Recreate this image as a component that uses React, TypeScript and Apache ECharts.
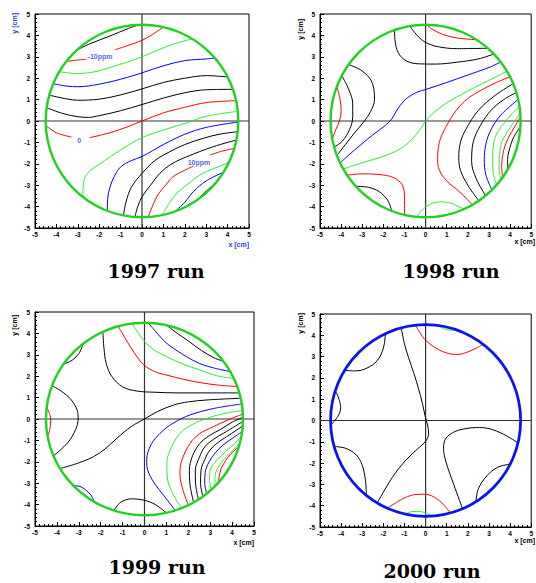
import React, { useEffect, useRef } from "react";
import * as echarts from "echarts";

type Pt = [number, number] | null;

const AXIS_MIN = -5;
const AXIS_MAX = 5;
const AXIS_STEP = 1;
const FIDUCIAL_R = 4.5;

// ---------- 1997 run ----------
const r97Black: Pt[][] = [
  [[-3.1, 3.28], [-2.5, 3.58], [-1.5, 3.97], [-0.7, 4.3], [-0.15, 4.5]],
  [[-4.3, 1.2], [-3.5, 1.03], [-3, 0.97], [-2, 1.02], [-1, 1.22], [0, 1.5], [1, 1.8], [2, 2.0], [3, 2.12], [4.0, 2.06]],
  [[-4.45, 0.62], [-3.7, 0.35], [-3, 0.2], [-2.5, 0.17], [-2, 0.25], [-1, 0.48], [0, 0.77], [1, 1.07], [2, 1.32], [3, 1.46], [4.25, 1.48]],
  [[-0.87, -4.42], [-0.75, -3.8], [-0.5, -3.1], [0, -2.45], [0.6, -1.85], [1.31, -1.43], [2, -1.1], [2.86, -0.81], [3.6, -0.62], [4.47, -0.5]],
  [[-0.33, -4.49], [-0.2, -4.0], [0, -3.54], [0.4, -3.0], [0.84, -2.44], [1.4, -2.0], [2.09, -1.67], [3.33, -1.2], [4.41, -0.89]],
  [[2.75, -3.5], [3.0, -3.28], [3.25, -3.05]],
];
const r97Red: Pt[][] = [
  [[-3.55, 2.78], [-3.0, 2.85], [-2.6, 2.88], null, [-1.25, 3.33], [-0.6, 3.55], [0, 3.77], [0.5, 4.05], [1.0, 4.39]],
  [[-4.48, -0.22], [-4.0, -0.55], [-3.3, -0.75], null, [-2.45, -0.78], [-1.5, -0.55], [-0.7, -0.28], [0, 0], [1, 0.38], [2, 0.64], [3, 0.86], [4.4, 0.95]],
  [[0.29, -4.49], [0.69, -3.54], [1.1, -3.0], [1.46, -2.6], [2.0, -2.3], [2.4, -2.1], null, [3.18, -1.59], [3.7, -1.42], [4.31, -1.28]],
];
const r97Green: Pt[][] = [
  [[-3.85, 2.3], [-3.0, 2.22], [-2.2, 2.3], [-1.5, 2.5], [-0.7, 2.75], [0, 3.0], [0.7, 3.3], [1.5, 3.6], [2.35, 3.84]],
  [[-2.77, -3.55], [-2.75, -3.1], [-2.66, -2.63], [-2.4, -2.3], [-1.96, -2.0], [-1, -1.35], [0, -0.78], [1, -0.42], [2, -0.12], [3, 0.22], [4.47, 0.45]],
  [[0.92, -4.41], [1.3, -3.8], [1.62, -3.38], [2.2, -2.9], [2.71, -2.52], [3.4, -2.2], [3.96, -1.98], [4.08, -1.88]],
];
const r97Blue: Pt[][] = [
  [[-4.15, 1.74], [-3.5, 1.63], [-3, 1.6], [-2, 1.72], [-1, 1.95], [0, 2.25], [1, 2.58], [2, 2.82], [3, 2.9], [3.4, 2.94]],
  [[-1.62, -4.2], [-1.6, -3.6], [-1.5, -3.1], [-1.3, -2.6], [-1.0, -2.15], [-0.5, -1.85], [0, -1.66], [1, -1.1], [2, -0.62], [3, -0.3], [4.49, -0.05]],
  [[1.54, -4.23], [2.0, -3.8], [2.4, -3.3], [3.0, -2.8], [3.8, -2.4]],
];
const r97LabelText = ["-10ppm", "0", "10ppm"];
const r97LabelPos: [number, number][] = [[-1.96, 3.0], [-2.94, -0.89], [2.66, -1.92]];

// ---------- 1998 run ----------
const r98Black: Pt[][] = [
  [[-0.75, 4.44], [-0.4, 4.0], [0, 3.67], [0.6, 3.47], [1.5, 3.38], [2.9, 3.4]],
  [[-1.47, 4.27], [-1.45, 3.8], [-1.3, 3.2], [-0.9, 2.8], [-0.3, 2.67], [0.5, 2.66], [1.5, 2.75], [2.5, 2.9], [3.2, 3.12]],
  [[-3.96, 2.1], [-3.65, 1.5], [-3.45, 0.8], [-3.45, 0.2], [-3.6, -0.4], [-3.95, -0.95], [-4.33, -1.22]],
  [[-3.65, 2.64], [-3.1, 2.4], [-2.65, 2.0], [-2.45, 1.5], [-2.42, 1.0], [-2.6, 0.45], [-2.9, 0], [-3.4, -0.6], [-3.8, -1.1], [-4.15, -1.55]],
  [[-3.3, -3.05], [-2.7, -3.1], [-2.2, -3.3], [-1.8, -3.7], [-1.6, -4.2]],
  [[2.5, -3.7], [2.0, -3.0], [1.65, -2.3], [1.57, -1.7], [1.65, -1.0], [1.9, -0.4], [2.5, 0.5], [3.3, 1.2], [4.15, 1.75]],
  [[2.84, -3.48], [2.4, -2.7], [2.18, -1.9], [2.25, -1.0], [2.6, -0.2], [3.1, 0.5], [3.7, 1.0], [4.3, 1.33]],
  [[3.9, -2.25], [3.88, -1.8], [3.95, -1.4], [4.15, -0.8], [4.49, -0.27]],
];
const r98Red: Pt[][] = [
  [[0.05, 4.5], [0.3, 4.3], [0.8, 4.05], [1.5, 3.88], [2.4, 3.8]],
  [[-4.2, 1.62], [-4.05, 1.0], [-4.0, 0.5], [-4.08, 0], [-4.25, -0.4], [-4.42, -0.84]],
  [[-3.72, -2.53], [-3.0, -2.47], [-2.2, -2.5], [-1.5, -2.65], [-1.1, -3.0], [-1.0, -3.6], [-1.0, -4.38]],
  [[2.2, -3.9], [1.6, -3.3], [1.0, -2.8], [0.65, -2.3], [0.57, -1.8], [0.65, -1.0], [0.95, -0.3], [1.45, 0.5], [2.0, 1.05], [2.65, 1.45], [3.35, 1.8], [4.0, 2.06]],
  [[3.65, -2.62], [3.6, -2.1], [3.65, -1.6], [3.8, -1.04], [4.05, -0.55], [4.26, -0.2], [4.49, 0.2]],
];
const r98Green: Pt[][] = [
  [[-3.9, -2.24], [-3, -1.95], [-2, -1.65], [-1.2, -1.3], [-0.6, -0.8], [-0.2, -0.3], [0, 0], [0.4, 0.4], [1, 0.85], [2, 1.4], [3, 1.9], [3.85, 2.33]],
  [[3.35, -3.0], [3.2, -2.4], [3.17, -1.8], [3.25, -0.9], [3.45, -0.45], [3.72, -0.1], [4.1, 0.35], [4.45, 0.67]],
  [[3.57, -2.74], [3.48, -2.2], [3.49, -1.8], [3.57, -1.1], [3.75, -0.7], [4.03, -0.27], [4.48, 0.36]],
  [[-0.43, -4.48], [-0.1, -4.1], [0.3, -3.85], [0.8, -3.78], [1.3, -3.88], [1.8, -4.12]],
];
const r98Blue: Pt[][] = [
  [[-4.05, -1.96], [-3.3, -1.3], [-2.5, -0.65], [-1.9, -0.2], [-1.6, 0.1], [-1.3, 0.6], [-0.9, 1.05], [-0.4, 1.35], [0, 1.47], [1, 1.8], [2, 2.15], [3, 2.5], [3.55, 2.75]],
  [[3.14, -3.22], [2.85, -2.5], [2.78, -1.8], [2.85, -1.1], [3.05, -0.5], [3.45, 0.15], [3.9, 0.6], [4.38, 1.0]],
  [[0.5, -4.47], [0.8, -4.42], [1.1, -4.36]],
];

// ---------- 1999 run ----------
const r99Black: Pt[][] = [
  [[-3.7, 2.56], [-3.3, 2.75], [-3.0, 3.05], [-2.8, 3.5]],
  [[-1.9, 4.08], [-1.85, 3.3], [-1.75, 2.6], [-1.5, 2.0], [-1.0, 1.5], [-0.3, 1.3], [0.5, 1.25], [1.5, 1.22], [3, 1.22], [4.33, 1.22]],
  [[1.0, 4.39], [1.5, 4.0], [2, 3.65], [2.6, 3.2], [3.2, 2.85], [3.6, 2.7]],
  [[-4.22, 1.55], [-3.8, 1.3], [-3.35, 0.9], [-3.07, 0.4], [-3.03, 0], [-3.15, -0.5], [-3.5, -1.1], [-4.15, -1.72]],
  [[-3.8, -2.3], [-3.0, -2.05], [-2.33, -1.76], [-1.8, -1.4], [-1.26, -0.9], [-0.6, -0.35], [0, 0], [0.6, 0.35], [1.32, 0.65], [2.0, 0.8], [2.85, 0.89], [4.39, 0.97]],
  [[-1.4, -4.28], [-1.1, -3.9], [-0.6, -3.73], [0, -3.8], [0.5, -4.0], [1.0, -4.39]],
  [[2.23, -3.85], [2.07, -3.0], [2.05, -2.4], [2.2, -1.7], [2.53, -1.14], [2.95, -0.78], [3.45, -0.5], [4.0, -0.15], [4.5, 0.08]],
  [[2.46, -3.75], [2.33, -3.0], [2.32, -2.4], [2.5, -1.8], [2.76, -1.29], [3.15, -0.95], [3.6, -0.67], [4.49, -0.12]],
  [[2.66, -3.6], [2.56, -3.0], [2.58, -2.4], [2.75, -1.9], [2.99, -1.45], [3.35, -1.1], [3.75, -0.83], [4.48, -0.33]],
  [[3.6, -2.72], [3.75, -2.45], [3.9, -2.2], [4.1, -1.9], [4.2, -1.65]],
];
const r99Red: Pt[][] = [
  [[-1.2, 4.34], [-0.9, 3.8], [-0.65, 3.38], [-0.3, 2.85], [0, 2.5], [0.5, 2.2], [1.02, 2.05], [1.8, 1.85], [2.54, 1.7], [3.4, 1.58], [4.22, 1.52]],
  [[-4.47, 0.55], [-4.32, 0.2], [-4.28, -0.1], [-4.33, -0.5], [-4.42, -0.85]],
  [[2.0, -4.02], [1.75, -3.3], [1.62, -2.6], [1.68, -2.0], [2.08, -1.14], [2.5, -0.7], [3.14, -0.36], [3.8, -0.05], [4.49, 0.23]],
  [[3.37, -2.98], [3.45, -2.5], [3.55, -2.2], [3.9, -1.68], [4.3, -1.3]],
];
const r99Green: Pt[][] = [
  [[-0.55, 4.43], [-0.3, 4.05], [-0.05, 3.69], [0.4, 3.25], [1.02, 2.91], [1.8, 2.55], [2.54, 2.29], [3.3, 2.02], [4.08, 1.9]],
  [[1.7, -4.17], [1.3, -3.5], [1.05, -2.8], [1.02, -2.1], [1.15, -1.5], [1.62, -0.67], [2.2, -0.25], [2.84, 0.03], [3.6, 0.25], [4.49, 0.4]],
  [[3.04, -3.3], [2.97, -2.8], [3.0, -2.4], [3.2, -2.05], [3.45, -1.76], [4.05, -1.2], [4.42, -0.83]],
  [[3.22, -3.13], [3.22, -2.7], [3.3, -2.38], [3.5, -2.05], [3.75, -1.76], [4.35, -1.14]],
];
const r99Blue: Pt[][] = [
  [[0.18, 4.48], [0.5, 4.1], [1, 3.55], [1.7, 3.05], [2.5, 2.6], [3.3, 2.35], [3.9, 2.22]],
  [[1.4, -4.27], [0.9, -3.6], [0.45, -3.0], [0.15, -2.4], [0.1, -1.9], [0.3, -1.2], [0.71, -0.67], [1.3, -0.2], [2.08, 0.19], [3.2, 0.5], [4.43, 0.7]],
  [[2.84, -3.48], [2.75, -3.0], [2.77, -2.5], [2.95, -2.0], [3.22, -1.6], [3.55, -1.25], [3.9, -0.98], [4.46, -0.59]],
  [[-3.24, -3.12], [-2.95, -3.15], [-2.7, -3.3], [-2.45, -3.55], [-2.3, -3.85]],
];

// ---------- 2000 run ----------
const r00Black: Pt[][] = [
  [[-3.85, 2.35], [-3.3, 2.33], [-2.8, 2.45], [-2.3, 2.8], [-2.0, 3.4], [-1.9, 4.1]],
  [[-1.15, 4.33], [-1.0, 3.6], [-0.81, 2.96], [-0.55, 2.2], [-0.35, 1.55], [-0.15, 0.8], [-0.02, 0.2], [0.1, -0.25], [0.14, -0.6], [0.02, -0.95], [-0.4, -1.35], [-0.97, -1.9], [-1.58, -2.68], [-2.27, -3.83]],
  [[-4.27, 1.4], [-4.1, 1.0], [-4.02, 0.6], [-4.15, 0.2], [-4.48, -0.2]],
  [[-4.34, -1.22], [-3.8, -1.3], [-3.3, -1.6], [-3.0, -2.1], [-2.85, -2.8], [-2.8, -3.5]],
  [[1.76, -4.17], [1.35, -3.05], [0.95, -1.9], [0.85, -1.3], [0.95, -0.85], [1.33, -0.55], [1.8, -0.4], [2.41, -0.33], [3.0, -0.38], [3.7, -0.65], [4.37, -1.05]],
  [[2.38, -3.82], [2.5, -3.2], [2.9, -2.6], [3.4, -2.2], [4.0, -2.05]],
];
const r00Red: Pt[][] = [
  [[-0.48, 4.47], [-0.25, 4.1], [-0.05, 3.82], [0.4, 3.45], [1.0, 3.17], [1.5, 3.1], [2.0, 3.22], [2.4, 3.4], [2.72, 3.58]],
  [[-1.82, -4.12], [-1.3, -3.8], [-0.97, -3.62], [-0.5, -3.48], [-0.05, -3.46], [0.57, -3.7], [1.18, -4.34]],
];
const r00Green: Pt[][] = [
  [[0.57, 4.47], [0.9, 4.3], [1.2, 4.24], [1.5, 4.24]],
  [[-0.97, -4.39], [-0.6, -4.27], [-0.3, -4.27], [0.0, -4.35], [0.35, -4.49]],
];
const r00Blue: Pt[][] = [];

const runTitles = ["1997 run", "1998 run", "1999 run", "2000 run"];

// ---------- layout & style ----------
const COLORS = { black: "#000000", red: "#ff0000", green: "#2fee2f", blue: "#0000ff" };
const LABEL_BLUE = "#2a3ee0";
const panels = [
  { lines: [r97Black, r97Red, r97Green, r97Blue], grid: { left: 35, top: 14, width: 214, height: 214 }, ring: "#1fd21f", ringW: 2.4, titleXY: [156, 271], axTitleColor: LABEL_BLUE, yTitle: [14.5, 13], xTitle: [249, 244] },
  { lines: [r98Black, r98Red, r98Green, r98Blue], grid: { left: 320, top: 14, width: 218, height: 214 }, ring: "#1fd21f", ringW: 2.4, titleXY: [451, 271], axTitleColor: "#000", yTitle: [300, 19], xTitle: [535, 241] },
  { lines: [r99Black, r99Red, r99Green, r99Blue], grid: { left: 35, top: 312, width: 219, height: 214 }, ring: "#1fd21f", ringW: 2.4, titleXY: [157, 567], axTitleColor: "#000", yTitle: [14.5, 315], xTitle: [254, 542] },
  { lines: [r00Black, r00Red, r00Green, r00Blue], grid: { left: 320, top: 314, width: 218, height: 213 }, ring: "#0a14f0", ringW: 2.8, titleXY: [432, 571], axTitleColor: "#000", yTitle: [300, 313], xTitle: [535, 540] },
];
const colorOrder = [COLORS.black, COLORS.red, COLORS.green, COLORS.blue];

function splitSegments(line: Pt[]): [number, number][][] {
  const out: [number, number][][] = [];
  let cur: [number, number][] = [];
  for (const p of line) {
    if (p === null) {
      if (cur.length) out.push(cur);
      cur = [];
    } else cur.push(p);
  }
  if (cur.length) out.push(cur);
  return out;
}

export default function App() {
  const ref = useRef<HTMLDivElement>(null);
  useEffect(() => {
    if (!ref.current) return;
    const chart = echarts.init(ref.current, null, { renderer: "svg" });
    const tickFont = { fontSize: 6.5, fontWeight: "bold" as const, color: "#000", fontFamily: "Liberation Sans, Arial, sans-serif" };
    const grids: any[] = [];
    const xAxes: any[] = [];
    const yAxes: any[] = [];
    const series: any[] = [];
    const graphics: any[] = [];

    panels.forEach((pn, i) => {
      grids.push({ ...pn.grid, show: true, borderColor: "#000", borderWidth: 1, backgroundColor: "transparent", containLabel: false });
      const axisCommon = {
        gridIndex: i,
        type: "value",
        min: AXIS_MIN,
        max: AXIS_MAX,
        interval: AXIS_STEP,
        axisLine: { show: true, onZero: false, lineStyle: { color: "#000", width: 1 } },
        axisTick: { show: true, inside: true, length: 4, lineStyle: { color: "#000", width: 1 } },
        minorTick: { show: true, splitNumber: 5, length: 2, lineStyle: { color: "#000", width: 1 } },
        splitLine: { show: false },
        minorSplitLine: { show: false },
      };
      xAxes.push({ ...axisCommon, position: "bottom", axisLabel: { ...tickFont, margin: 3 } });
      yAxes.push({ ...axisCommon, position: "left", axisLabel: { ...tickFont, margin: 5 } });

      series.push({
        type: "line", xAxisIndex: i, yAxisIndex: i, data: [[AXIS_MIN, 0], [AXIS_MAX, 0]],
        symbol: "none", silent: true, lineStyle: { color: "#333", width: 1.2 }, z: 1,
      });
      series.push({
        type: "line", xAxisIndex: i, yAxisIndex: i, data: [[0, AXIS_MIN], [0, AXIS_MAX]],
        symbol: "none", silent: true, lineStyle: { color: "#333", width: 1.2 }, z: 1,
      });

      pn.lines.forEach((group, ci) => {
        group.forEach((line) => {
          splitSegments(line).forEach((seg) => {
            series.push({
              type: "line", xAxisIndex: i, yAxisIndex: i, data: seg,
              symbol: "none", smooth: 0.35, silent: true,
              lineStyle: { color: colorOrder[ci], width: 1 }, z: 2,
            });
          });
        });
      });

      series.push({
        type: "custom", xAxisIndex: i, yAxisIndex: i, data: [[0, 0, FIDUCIAL_R]], silent: true, z: 5,
        renderItem: (_p: any, api: any) => {
          const c = api.coord([api.value(0), api.value(1)]);
          const s = api.size([api.value(2), api.value(2)]);
          return {
            type: "ellipse",
            shape: { cx: c[0], cy: c[1], rx: s[0], ry: s[1] },
            style: { fill: "none", stroke: pn.ring, lineWidth: pn.ringW },
          };
        },
      });

      graphics.push({
        type: "text", x: pn.titleXY[0], y: pn.titleXY[1],
        style: { text: runTitles[i], font: "bold 19px 'DejaVu Serif', serif", fill: "#000", textAlign: "center", textVerticalAlign: "middle" },
      });
      graphics.push({
        type: "text", x: pn.yTitle[0], y: pn.yTitle[1], rotation: Math.PI / 2,
        style: { text: "y [cm]", font: "bold 7px 'Liberation Sans', Arial, sans-serif", fill: pn.axTitleColor, textAlign: "right", textVerticalAlign: "middle" },
      });
      graphics.push({
        type: "text", x: pn.xTitle[0], y: pn.xTitle[1],
        style: { text: "x [cm]", font: "bold 7px 'Liberation Sans', Arial, sans-serif", fill: pn.axTitleColor, textAlign: "right", textVerticalAlign: "middle" },
      });
    });

    series.push({
      type: "scatter", xAxisIndex: 0, yAxisIndex: 0, silent: true, z: 6,
      symbolSize: 1, itemStyle: { color: "rgba(0,0,0,0)" },
      data: r97LabelPos.map((p, k) => [p[0], p[1], r97LabelText[k]]),
      label: {
        show: true, position: "inside", formatter: (p: any) => p.data[2],
        color: LABEL_BLUE, fontSize: 7, fontWeight: "bold", fontFamily: "Liberation Sans, Arial, sans-serif",
      },
    });

    chart.setOption({
      animation: false,
      backgroundColor: "#fff",
      grid: grids,
      xAxis: xAxes,
      yAxis: yAxes,
      series,
      graphic: graphics,
    });
    return () => chart.dispose();
  }, []);
  return <div ref={ref} style={{ position: "absolute", left: 0, top: 0, width: 536, height: 583 }} />;
}
